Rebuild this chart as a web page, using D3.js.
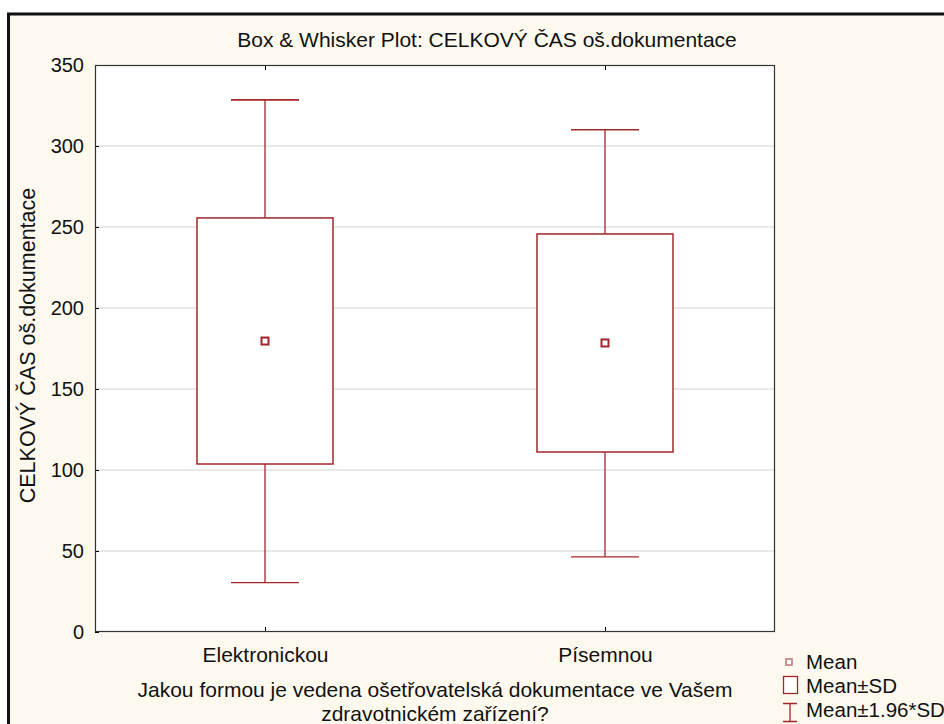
<!DOCTYPE html>
<html>
<head>
<meta charset="utf-8">
<script src="https://cdn.jsdelivr.net/npm/d3@7"></script>
<style>
  body { margin: 0; background: #fff; }
  svg { display: block; font-family: "Liberation Sans", Arial, sans-serif; }
</style>
</head>
<body>
<div id="chart"></div>
<script>
// values
const groups = ["Elektronickou", "Písemnou"];
const means = [179.6, 178.4];
const sdLow = [103.7, 111.1];
const sdHigh = [255.6, 245.7];
const ciLow = [30.5, 46.4];
const ciHigh = [328.5, 310.0];
const yTicks = [0, 50, 100, 150, 200, 250, 300, 350];

const width = 944, height = 724,
      margin = ({ top: 65, right: 169, bottom: 92, left: 95 });

const red = "#a3262b";

let svg = d3.select("#chart")
    .append("svg")
    .attr("width", width)
    .attr("height", height);

// outer panel
svg.append("rect")
    .attr("x", 8.5).attr("y", 14)
    .attr("width", width + 20).attr("height", height + 20)
    .attr("fill", "#fef9ee")
    .attr("stroke", "#111")
    .attr("stroke-width", 3);

let x = d3.scalePoint()
    .domain(groups)
    .range([margin.left, width - margin.right])
    .padding(0.5);

let y = d3.scaleLinear()
    .domain([0, 350])
    .range([height - margin.bottom, margin.top]);

const step = x.step();

// plot area
svg.append("rect")
    .attr("x", margin.left).attr("y", margin.top)
    .attr("width", width - margin.left - margin.right)
    .attr("height", y(0) - y(350))
    .attr("fill", "#fff");

// grid
svg.append("g")
    .selectAll("line")
    .data(yTicks.filter(d => d > 0 && d < 350))
    .join("line")
    .attr("x1", margin.left).attr("x2", width - margin.right)
    .attr("y1", d => y(d)).attr("y2", d => y(d))
    .attr("stroke", "#e2e2e2")
    .attr("stroke-width", 1.5);

// axes
svg.append("g")
    .attr("transform", `translate(${margin.left},0)`)
    .call(d3.axisLeft(y).tickValues(yTicks).tickSize(-4).tickPadding(11))
    .call(g => g.select(".domain").remove())
    .call(g => g.selectAll("text").attr("font-size", 20).attr("fill", "#111"));

svg.append("g")
    .attr("transform", `translate(0,${y(0)})`)
    .call(d3.axisBottom(x).tickSize(-5).tickPadding(15))
    .call(g => g.select(".domain").remove())
    .call(g => g.selectAll("text").attr("font-size", 21).attr("fill", "#111"));

svg.append("g")
    .attr("transform", `translate(0,${y(350)})`)
    .call(d3.axisTop(x).tickSize(-5).tickFormat(""))
    .call(g => g.select(".domain").remove());

// frame
svg.append("rect")
    .attr("x", margin.left + 0.5).attr("y", y(350) + 0.5)
    .attr("width", width - margin.left - margin.right - 1)
    .attr("height", y(0) - y(350) - 1)
    .attr("fill", "none")
    .attr("stroke", "#333")
    .attr("stroke-width", 1.2);

// boxes
let box = svg.selectAll(".box")
    .data(groups)
    .join("g")
    .attr("class", "box");

box.append("line")
    .attr("x1", d => x(d)).attr("x2", d => x(d))
    .attr("y1", (d, i) => y(ciHigh[i])).attr("y2", (d, i) => y(sdHigh[i]))
    .attr("stroke", red).attr("stroke-width", 1.3);

box.append("line")
    .attr("x1", d => x(d)).attr("x2", d => x(d))
    .attr("y1", (d, i) => y(sdLow[i])).attr("y2", (d, i) => y(ciLow[i]))
    .attr("stroke", red).attr("stroke-width", 1.3);

box.append("line")
    .attr("x1", d => x(d) - step * 0.1).attr("x2", d => x(d) + step * 0.1)
    .attr("y1", (d, i) => y(ciHigh[i])).attr("y2", (d, i) => y(ciHigh[i]))
    .attr("stroke", red).attr("stroke-width", 1.6);

box.append("line")
    .attr("x1", d => x(d) - step * 0.1).attr("x2", d => x(d) + step * 0.1)
    .attr("y1", (d, i) => y(ciLow[i])).attr("y2", (d, i) => y(ciLow[i]))
    .attr("stroke", red).attr("stroke-width", 1.3);

box.append("rect")
    .attr("x", d => x(d) - step * 0.2)
    .attr("width", step * 0.4)
    .attr("y", (d, i) => y(sdHigh[i]))
    .attr("height", (d, i) => y(sdLow[i]) - y(sdHigh[i]))
    .attr("fill", "#fff")
    .attr("stroke", red).attr("stroke-width", 1.5);

box.append("rect")
    .attr("x", d => x(d) - 3.5)
    .attr("y", (d, i) => y(means[i]) - 3.5)
    .attr("width", 7).attr("height", 7)
    .attr("fill", "#fff")
    .attr("stroke", red).attr("stroke-width", 2);

// titles
svg.append("text")
    .attr("x", 487).attr("y", 47)
    .attr("text-anchor", "middle")
    .attr("font-size", 21)
    .attr("fill", "#111")
    .text("Box & Whisker Plot: CELKOVÝ ČAS oš.dokumentace");

svg.append("text")
    .attr("transform", `translate(35,${(y(0) + y(350)) / 2 - 3}) rotate(-90)`)
    .attr("text-anchor", "middle")
    .attr("font-size", 21.5)
    .attr("fill", "#111")
    .text("CELKOVÝ ČAS oš.dokumentace");

let xt = svg.append("text")
    .attr("text-anchor", "middle")
    .attr("font-size", 21)
    .attr("fill", "#111");
xt.append("tspan").attr("x", 435).attr("y", 697)
    .text("Jakou formou je vedena ošetřovatelská dokumentace ve Vašem");
xt.append("tspan").attr("x", 435).attr("y", 721)
    .text("zdravotnickém zařízení?");

// legend
const legendItems = ["Mean", "Mean±SD", "Mean±1.96*SD"];
let lg = svg.append("g");
legendItems.forEach((t, i) => {
    lg.append("text")
        .attr("x", 806).attr("y", 669 + i * 24)
        .attr("font-size", 20.5)
        .attr("fill", "#111")
        .text(t);
});
lg.append("rect")
    .attr("x", 786).attr("y", 659).attr("width", 6).attr("height", 6)
    .attr("fill", "#fff").attr("stroke", "#c98a8c").attr("stroke-width", 1.8);
lg.append("rect")
    .attr("x", 783.5).attr("y", 676.5).attr("width", 14).attr("height", 17)
    .attr("fill", "#fff").attr("stroke", red).attr("stroke-width", 1.3);
lg.append("path")
    .attr("d", "M783,703.5H797M790,703.5V722M783,721.5H797")
    .attr("fill", "none").attr("stroke", red).attr("stroke-width", 1.3);
</script>
</body>
</html>
